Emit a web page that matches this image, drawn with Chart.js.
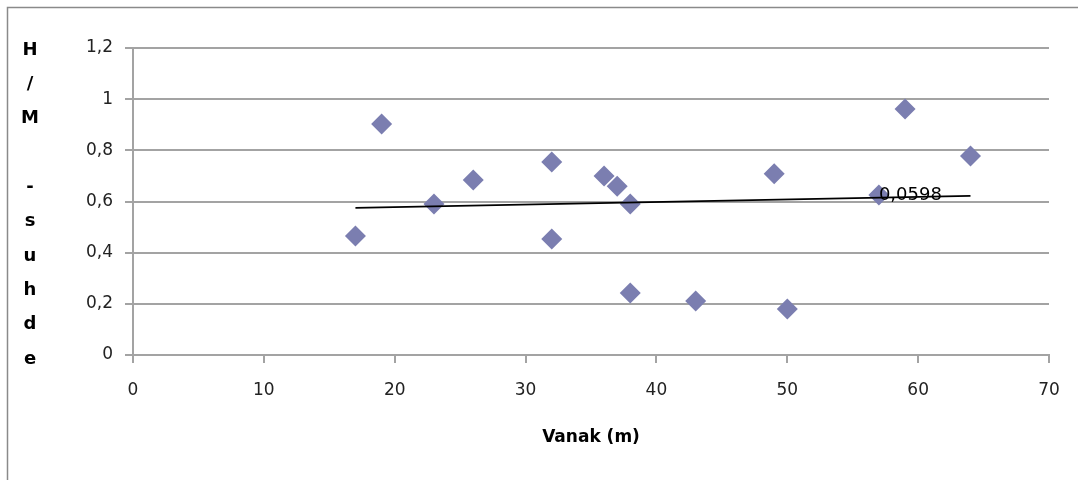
<!DOCTYPE html>
<html>
<head>
<meta charset="utf-8">
<script src="https://cdn.jsdelivr.net/npm/chart.js@4.4.0/dist/chart.umd.min.js"></script>
<style>
    html, body { margin: 0; padding: 0; background: #fff; }
    #wrap { position: relative; width: 1078px; height: 480px; }
</style>
</head>
<body>
<div id="wrap"><canvas id="scatterChart"></canvas></div>
<script>
// values
const spanX = [17, 19, 23, 26, 32, 32, 36, 37, 38, 38, 43, 49, 50, 57, 59, 64];
const ratioY = [0.465, 0.903, 0.59, 0.684, 0.754, 0.453, 0.70, 0.66, 0.59, 0.242, 0.211, 0.708, 0.18, 0.625, 0.962, 0.778];
const trendX = [17, 64];
const trendY = [0.575, 0.622];
const trendLabel = '0,0598';
const yTickLabels = ['0', '0,2', '0,4', '0,6', '0,8', '1', '1,2'];
const yTitleLetters = ['H', '/', 'M', '', '-', 's', 'u', 'h', 'd', 'e'];
const xTitle = 'Vanak (m)';

const gridGray = '#a3a3a3';
const tickFont = { family: '"DejaVu Sans", Verdana, sans-serif', size: 17 };

const points = spanX.map((x, i) => ({ x: x, y: ratioY[i] }));
const trendPoints = trendX.map((x, i) => ({ x: x, y: trendY[i] }));

const frameAndLabels = {
    id: 'frameAndLabels',
    beforeDraw: (chart) => {
        const ctx = chart.ctx;
        ctx.save();
        ctx.fillStyle = '#fff';
        ctx.fillRect(0, 0, chart.width, chart.height);
        ctx.strokeStyle = '#8a8a8a';
        ctx.lineWidth = 1.5;
        ctx.strokeRect(7.5, 7.5, 2000, 2000);
        ctx.restore();
    },
    afterDraw: (chart) => {
        const ctx = chart.ctx;
        const area = chart.chartArea;
        ctx.save();
        // stacked y-axis title
        ctx.fillStyle = '#000';
        ctx.font = 'bold 18px "DejaVu Sans", Tahoma, sans-serif';
        ctx.textAlign = 'center';
        ctx.textBaseline = 'middle';
        const step = (area.bottom - area.top + 2) / (yTitleLetters.length - 1);
        yTitleLetters.forEach((ch, i) => {
            ctx.fillText(ch, 30, area.top + 2 + i * step);
        });
        // trend line label
        const xs = chart.scales.x;
        const ys = chart.scales.y;
        ctx.font = '18px "DejaVu Sans", Verdana, sans-serif';
        ctx.textAlign = 'left';
        ctx.fillText(trendLabel, xs.getPixelForValue(57), ys.getPixelForValue(0.625));
        ctx.restore();
    }
};

const ctx = document.getElementById('scatterChart').getContext('2d');
new Chart(ctx, {
    type: 'scatter',
    data: {
        datasets: [
            {
                type: 'line',
                label: 'trend',
                data: trendPoints,
                borderColor: '#000',
                borderWidth: 1.8,
                pointRadius: 0,
                fill: false,
                order: 0
            },
            {
                label: 'H/M',
                data: points,
                pointStyle: 'rectRot',
                pointRadius: 10.5,
                pointHoverRadius: 10.5,
                backgroundColor: 'rgb(123, 126, 176)',
                borderColor: 'rgb(123, 126, 176)',
                borderWidth: 0,
                order: 1
            }
        ]
    },
    options: {
        responsive: true,
        maintainAspectRatio: false,
        animation: false,
        devicePixelRatio: 1,
        layout: { padding: { top: 48, right: 29, left: 0, bottom: 0 } },
        plugins: {
            legend: { display: false },
            tooltip: { enabled: false }
        },
        scales: {
            x: {
                type: 'linear',
                min: 0,
                max: 70,
                ticks: { stepSize: 10, color: '#222', font: tickFont, padding: 17 },
                grid: { drawOnChartArea: false, drawTicks: true, tickLength: 8, color: gridGray, lineWidth: 2 },
                border: { color: gridGray, width: 2 },
                title: {
                    display: true,
                    text: xTitle,
                    color: '#000',
                    font: { family: '"DejaVu Sans", Tahoma, sans-serif', size: 17, weight: 'bold' },
                    padding: { top: 0, bottom: 32 }
                },
                afterFit: (scale) => { scale.height = 125; }
            },
            y: {
                type: 'linear',
                min: 0,
                max: 1.2,
                ticks: {
                    stepSize: 0.2,
                    color: '#222',
                    font: tickFont,
                    padding: 12,
                    callback: (value, index) => yTickLabels[index]
                },
                grid: { color: gridGray, lineWidth: 2, drawTicks: true, tickLength: 8 },
                border: { color: gridGray, width: 2 },
                afterFit: (scale) => { scale.width = 133; }
            }
        }
    },
    plugins: [frameAndLabels]
});
</script>
</body>
</html>
